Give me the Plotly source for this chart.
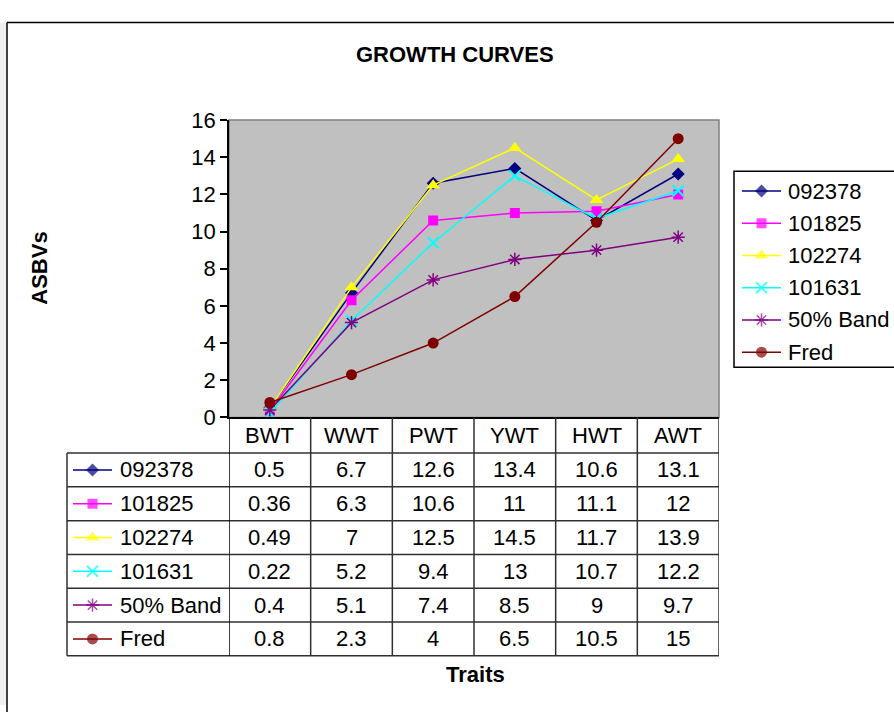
import plotly.graph_objects as go

W, H = 894, 718

# ---------------- data ----------------
categories = ["BWT", "WWT", "PWT", "YWT", "HWT", "AWT"]
series_names = ["092378", "101825", "102274", "101631", "50% Band", "Fred"]
v_092378 = [0.5, 6.7, 12.6, 13.4, 10.6, 13.1]
v_101825 = [0.36, 6.3, 10.6, 11, 11.1, 12]
v_102274 = [0.49, 7, 12.5, 14.5, 11.7, 13.9]
v_101631 = [0.22, 5.2, 9.4, 13, 10.7, 12.2]
v_band50 = [0.4, 5.1, 7.4, 8.5, 9, 9.7]
v_fred = [0.8, 2.3, 4, 6.5, 10.5, 15]
y_tick_vals = [0, 2, 4, 6, 8, 10, 12, 14, 16]

series_values = [v_092378, v_101825, v_102274, v_101631, v_band50, v_fred]

# ---------------- styles ----------------
FONT = "Liberation Sans, Arial, Helvetica, sans-serif"
FS = 22
styles = [
    dict(color="#000080", symbol="diamond", size=10, lw=0),
    dict(color="#FF00FF", symbol="square", size=10, lw=0),
    dict(color="#FFFF00", symbol="triangle-up", size=12, lw=0),
    dict(color="#00FFFF", symbol="x-thin-open", size=11, lw=2),
    dict(color="#800080", symbol="asterisk-open", size=11, lw=1.5),
    dict(color="#800000", symbol="circle", size=11, lw=0),
]


def px(x):
    return x / W


def py(y):
    return 1 - y / H


# plot area in pixels
PL, PR, PT, PB = 229, 719, 112, 420
TABLE_LEFT = 67
HEADER_BOTTOM = 457
ROW_H = 35
N_ROWS = len(series_names)
TABLE_BOTTOM = HEADER_BOTTOM + ROW_H * N_ROWS

fig = go.Figure()


def marker_for(st, sizes=None):
    m = dict(symbol=st["symbol"], size=sizes if sizes is not None else st["size"],
             color=st["color"])
    if st["lw"]:
        m["line"] = dict(color=st["color"], width=st["lw"])
    else:
        m["line"] = dict(width=0)
    return m


# main series
for name, vals, st in zip(series_names, series_values, styles):
    fig.add_trace(go.Scatter(
        x=categories, y=vals, name=name, mode="lines+markers",
        line=dict(color=st["color"], width=1.5),
        marker=marker_for(st), xaxis="x", yaxis="y", showlegend=False,
        hoverinfo="skip"))

annotations = []
shapes = []

# outer chart border + left strip
shapes.append(dict(type="rect", xref="paper", yref="paper", x0=0, x1=px(6),
                   y0=0, y1=py(11), fillcolor="#f0f0f0", line=dict(width=0),
                   layer="below"))
shapes.append(dict(type="line", xref="paper", yref="paper", x0=px(7), x1=px(7),
                   y0=-0.01, y1=py(11), line=dict(color="#000000", width=1.5)))
shapes.append(dict(type="line", xref="paper", yref="paper", x0=px(7), x1=1.01,
                   y0=py(11), y1=py(11), line=dict(color="#000000", width=1.5)))

# plot background
shapes.append(dict(type="rect", xref="paper", yref="paper", x0=px(PL), x1=px(PR),
                   y0=py(PB), y1=py(PT), fillcolor="#C0C0C0",
                   line=dict(color="#808080", width=1.5), layer="below"))

# table lines
LC = "#303030"
for k in range(N_ROWS + 1):
    yy = HEADER_BOTTOM + ROW_H * k
    shapes.append(dict(type="line", xref="paper", yref="paper", x0=px(TABLE_LEFT),
                       x1=px(PR), y0=py(yy), y1=py(yy), line=dict(color=LC, width=1.5)))
shapes.append(dict(type="line", xref="paper", yref="paper", x0=px(TABLE_LEFT),
                   x1=px(TABLE_LEFT), y0=py(HEADER_BOTTOM), y1=py(TABLE_BOTTOM),
                   line=dict(color=LC, width=1.5)))
for i in range(len(categories) + 1):
    shapes.append(dict(type="line", xref="x", yref="paper", x0=i - 0.5, x1=i - 0.5,
                       y0=py(PB), y1=py(TABLE_BOTTOM),
                       line=dict(color="#000000" if i == 0 else LC, width=1.5)))

# header labels
for c in categories:
    annotations.append(dict(x=c, xref="x", y=py(438.5), yref="paper", text=c,
                            showarrow=False, font=dict(family=FONT, size=FS, color="black"),
                            xanchor="center", yanchor="middle"))

# table cells
for r, (name, vals, st) in enumerate(zip(series_names, series_values, styles)):
    yc = HEADER_BOTTOM + ROW_H * r + ROW_H / 2
    for c, v in zip(categories, vals):
        annotations.append(dict(x=c, xref="x", y=py(yc), yref="paper", text=f"{v:g}",
                                showarrow=False, font=dict(family=FONT, size=FS, color="black"),
                                xanchor="center", yanchor="middle"))
    annotations.append(dict(x=px(118), xref="paper", y=py(yc), yref="paper", text=name,
                            showarrow=False, font=dict(family=FONT, size=FS, color="black"),
                            xanchor="left", yanchor="middle"))
    # table legend key
    fig.add_trace(go.Scatter(
        x=[73, 92.5, 112], y=[yc, yc, yc], mode="lines+markers",
        line=dict(color=st["color"], width=1.5),
        marker=marker_for(st, [0, st["size"], 0]),
        xaxis="x2", yaxis="y2", showlegend=False, hoverinfo="skip"))

# legend box (its right side runs past the picture edge, as in the reference)
LG_L, LG_T, LG_B = 734, 165, 368
shapes.append(dict(type="rect", xref="paper", yref="paper", x0=px(LG_L), x1=1.01,
                   y0=py(LG_B), y1=py(LG_T), fillcolor="white",
                   line=dict(color="#000000", width=1.5), layer="below"))
for r, (name, st) in enumerate(zip(series_names, styles)):
    yc = 185.5 + 33.4 * r
    annotations.append(dict(x=px(786), xref="paper", y=py(yc), yref="paper", text=name,
                            showarrow=False, font=dict(family=FONT, size=FS, color="black"),
                            xanchor="left", yanchor="middle"))
    fig.add_trace(go.Scatter(
        x=[742, 761.5, 781], y=[yc, yc, yc], mode="lines+markers",
        line=dict(color=st["color"], width=1.5),
        marker=marker_for(st, [0, st["size"], 0]),
        xaxis="x2", yaxis="y2", showlegend=False, hoverinfo="skip"))

# titles
annotations.append(dict(x=px(455), xref="paper", y=py(44), yref="paper",
                        text="<b>GROWTH CURVES</b>", showarrow=False,
                        font=dict(family=FONT, size=FS, color="black"),
                        xanchor="center", yanchor="middle"))
annotations.append(dict(x=px(475), xref="paper", y=py(686), yref="paper",
                        text="<b>Traits</b>", showarrow=False,
                        font=dict(family=FONT, size=FS, color="black"),
                        xanchor="center", yanchor="middle"))
annotations.append(dict(x=px(40), xref="paper", y=py(266), yref="paper",
                        text="<b>ASBVs</b>", showarrow=False, textangle=-90,
                        font=dict(family=FONT, size=FS, color="black"),
                        xanchor="center", yanchor="middle"))

fig.update_layout(
    width=W, height=H,
    margin=dict(l=0, r=0, t=0, b=0),
    paper_bgcolor="white",
    plot_bgcolor="rgba(0,0,0,0)",
    showlegend=False,
    font=dict(family=FONT, size=FS, color="black"),
    xaxis=dict(domain=[px(PL), px(PR)], type="category", categoryorder="array",
               categoryarray=categories, range=[-0.5, len(categories) - 0.5],
               showticklabels=False, ticks="", showgrid=False, zeroline=False,
               showline=True, linecolor="black", linewidth=1.5, anchor="y",
               fixedrange=True),
    yaxis=dict(domain=[py(PB), py(PT)], range=[0, 16], tickvals=y_tick_vals,
               ticks="outside", ticklen=7, tickcolor="black", tickwidth=1.5,
               showgrid=False, zeroline=False, showline=True, linecolor="black",
               linewidth=1.5, tickfont=dict(family=FONT, size=FS, color="black"),
               anchor="x", fixedrange=True),
    xaxis2=dict(domain=[0, 1], range=[0, W], visible=False, anchor="y2",
                fixedrange=True),
    yaxis2=dict(domain=[0, 1], range=[H, 0], visible=False, anchor="x2",
                fixedrange=True),
    shapes=shapes,
    annotations=annotations,
)

# make the page exactly the figure (no default body margin)
POST_JS = (
    "document.documentElement.style.margin='0';"
    "document.body.style.margin='0';"
    "document.documentElement.style.overflow='hidden';"
    "document.body.style.overflow='hidden';"
)

fig.write_html("out.html", config={"displayModeBar": False}, post_script=POST_JS)
